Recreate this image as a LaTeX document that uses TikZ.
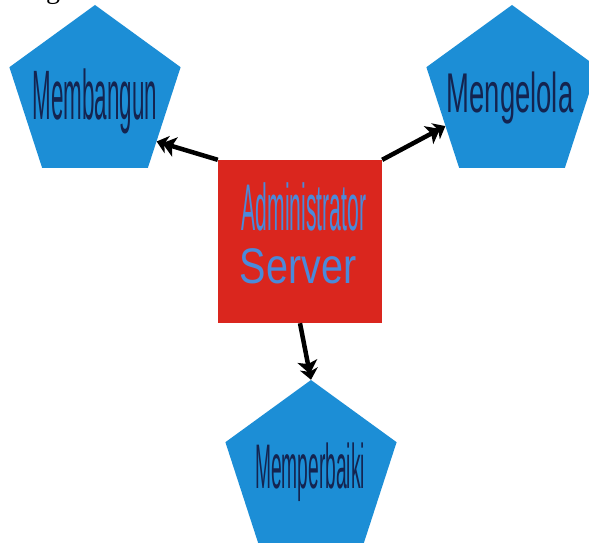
\documentclass[tikz,border=0pt]{standalone}
\usepackage{fontspec}
\setmainfont{Liberation Sans}
\newfontfamily\serifcap{Liberation Serif}
\usetikzlibrary{shapes.geometric,arrows.meta}
\definecolor{pentblue}{RGB}{28,142,214}
\definecolor{boxred}{RGB}{218,38,30}
\definecolor{navytext}{RGB}{20,36,80}
\definecolor{admintext}{RGB}{74,138,218}
\tikzset{
  pent/.style={regular polygon, regular polygon sides=5, minimum size=180pt,
    inner sep=0pt, fill=pentblue, draw=none},
  pentlabel/.style={text=navytext, inner sep=0pt},
  adminbox/.style={rectangle, fill=boxred, draw=none, minimum width=164pt,
    minimum height=163pt, inner sep=0pt},
  adminlabel/.style={text=admintext, inner sep=0pt},
  link/.style={line width=4.5pt, draw=black,
    -{Stealth[length=13pt,width=20pt,inset=3pt,sep=-5pt]Stealth[length=11pt,width=18pt,inset=3pt]}}
}
\begin{document}
\begin{tikzpicture}[x=1pt,y=-1pt]
\useasboundingbox[fill=white] (0,0) rectangle (589,543);
% partial caption glyph cut off at top
\node[anchor=base, inner sep=0pt, font=\serifcap\fontsize{28}{28}\selectfont] (cap) at (53,-1) {g};
% pentagons
\node[pent] (memb) at (95,95) {};
\node[pent] (meng) at (512,95) {};
\node[pent] (memp) at (311,470) {};
% labels in pentagons
\node[pentlabel] (tmemb) at (95,101) {\fontsize{70}{70}\selectfont\scalebox{0.32}[1]{Membangun}};
\node[pentlabel] (tmeng) at (510,98) {\fontsize{56}{56}\selectfont\scalebox{0.49}[1]{Mengelola}};
\node[pentlabel] (tmemp) at (310,472) {\fontsize{63}{63}\selectfont\scalebox{0.305}[1]{Memperbaiki}};
% central box
\node[adminbox] (admin) at (300,241.5) {};
\node[adminlabel, anchor=base] (tadm) at (304,230) {\fontsize{66}{66}\selectfont\scalebox{0.32}[1]{Administrator}};
\node[adminlabel, anchor=base] (tsrv) at (298,283) {\fontsize{50}{50}\selectfont\scalebox{0.79}[1]{Server}};
% connectors
\draw[link] (admin.north west) -- (memb.-37);
\draw[link] (admin.north east) -- (meng.205.6);
\draw[link] (admin.south) -- (memp.north);
\end{tikzpicture}
\end{document}
